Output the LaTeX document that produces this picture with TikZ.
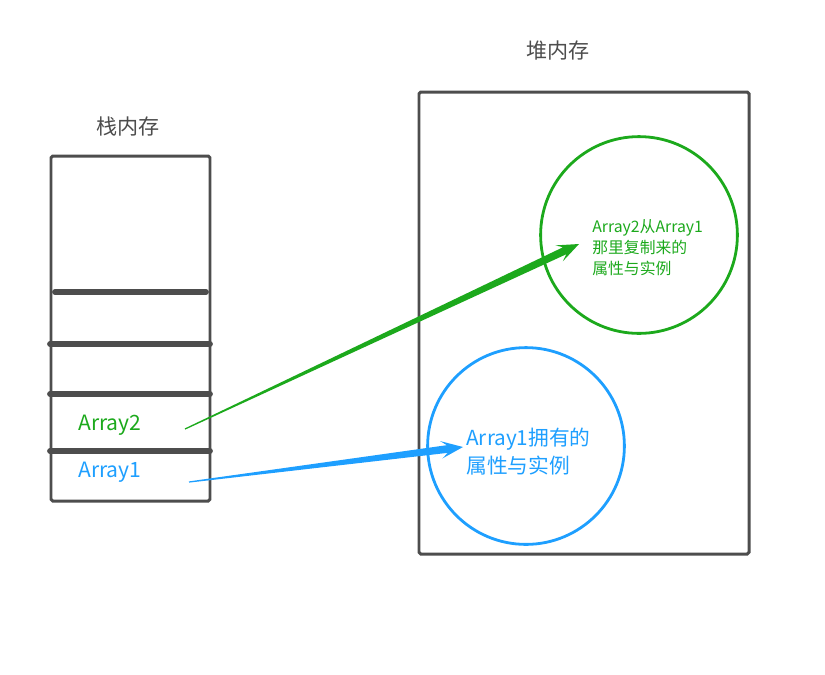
\documentclass[tikz,border=0pt]{standalone}
\usepackage{fontspec}
\setmainfont{Noto Sans CJK SC}
\usetikzlibrary{calc}
\definecolor{boxgray}{HTML}{4D4D4D}
\definecolor{refgreen}{HTML}{1CA91C}
\definecolor{refblue}{HTML}{1E9FFF}
\tikzset{
	mem/.style={draw=boxgray,line width=1.7pt,rounded corners=1pt},
	slot/.style={draw=boxgray,line width=3.3pt,line cap=round},
	blob/.style={circle,draw=#1,line width=1.6pt,minimum size=112pt,inner sep=0pt},
	title/.style={text=boxgray,font=\fontsize{12}{14}\selectfont},
}
\newcommand\taper[3]{%
	\coordinate (neck) at ($(#2)!9pt!(#1)$);
	\coordinate (barb) at ($(#2)!12.5pt!(#1)$);
	\fill[#3] ($(#1)!0.35pt!90:(#2)$) -- ($(neck)!2.2pt!90:(#2)$) -- ($(barb)!5pt!90:(#2)$) -- (#2)
	-- ($(barb)!5pt!-90:(#2)$) -- ($(neck)!2.2pt!-90:(#2)$) -- ($(#1)!0.35pt!-90:(#2)$) -- cycle;}
\begin{document}
\begin{tikzpicture}[x=0.02cm,y=-0.02cm]
	\useasboundingbox (0,0) rectangle (825,674);
	\node[title] (stack) at (128,127) {栈内存};
	\node[title] (heap) at (558,51) {堆内存};
	\draw[mem] (51,156) rectangle (210,501);
	\draw[mem] (419,92) rectangle (749,554);
	\draw[slot] (55,292)--(206,292);
	\foreach \y in {344,394,451} \draw[slot] (50,\y)--(210,\y);
	\node[anchor=west,inner sep=0pt,text=refgreen,font=\fontsize{12}{14}\selectfont] (arr2) at (78,425) {Array2};
	\node[anchor=west,inner sep=0pt,text=refblue,font=\fontsize{12}{14}\selectfont] (arr1) at (78,472) {Array1};
	\node[blob=refgreen] (copy) at (639,235) {};
	\node[blob=refblue] (own) at (526,446) {};
	\node[anchor=west,inner sep=0pt,align=left,text=refgreen,font=\fontsize{9}{11.9}\selectfont] (copytxt) at (592,248) {Array2从Array1\\那里复制来的\\属性与实例};
	\node[anchor=west,inner sep=0pt,align=left,text=refblue,font=\fontsize{11.8}{15.9}\selectfont] (owntxt) at (466,452) {Array1拥有的\\属性与实例};
	\path (185,429) coordinate (a2from) (579,244) coordinate (a2to)
	(189,482) coordinate (a1from) (463,447) coordinate (a1to);
	\taper{a2from}{a2to}{refgreen}
	\taper{a1from}{a1to}{refblue}
\end{tikzpicture}
\end{document}
